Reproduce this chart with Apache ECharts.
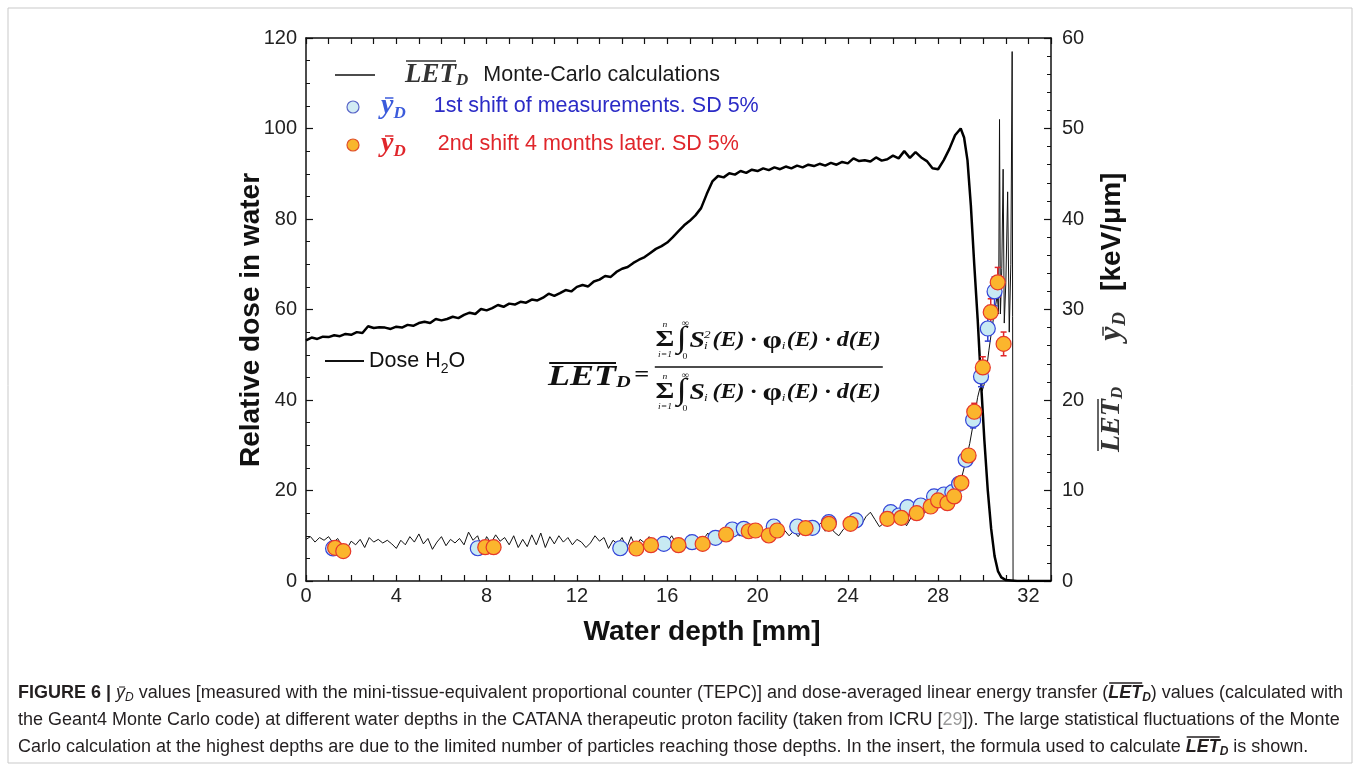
<!DOCTYPE html>
<html>
<head>
<meta charset="utf-8">
<script src="https://cdn.jsdelivr.net/npm/echarts@6/dist/echarts.min.js"></script>
<style>
html, body { margin: 0; padding: 0; background: #fff; }
#chart { width: 1360px; height: 771px; }
</style>
</head>
<body>
<div id="chart"></div>
<script>
// dose curve, sampled every 0.25 mm from 0 to 28.75 mm (left axis, %)
const doseStep = 0.25;
const doseMain = [
    53.2, 53.8, 53.5, 54.0, 53.9, 54.3, 54.1, 54.6, 54.4, 55.0, 54.8, 56.3, 55.9, 56.1, 56.0, 55.7,
    56.2, 56.0, 56.6, 56.4, 57.0, 57.3, 57.0, 57.9, 57.6, 57.9, 58.4, 58.1, 58.8, 59.3, 59.0, 60.1,
    59.8, 60.3, 61.0, 60.6, 61.3, 61.1, 61.7, 61.5, 62.2, 62.0, 62.6, 63.5, 63.0, 63.6, 64.3, 64.0,
    65.0, 65.4, 65.1, 66.2, 66.6, 67.4, 67.2, 68.3, 69.0, 69.4, 70.3, 71.0, 71.6, 72.5, 73.4, 74.0,
    74.8, 76.0, 77.3, 78.6, 79.6, 80.8, 82.4, 85.5, 88.3, 89.5, 89.2, 90.1, 89.8, 90.6, 90.2, 90.9,
    90.6, 91.2, 90.8, 91.4, 91.0, 91.6, 91.2, 91.8, 91.4, 92.0, 91.7, 92.2, 91.8, 92.4, 92.0, 92.6,
    92.3, 93.4, 92.8, 93.0, 92.7, 93.6, 92.9, 93.2, 94.0, 93.4, 95.0, 93.5, 94.8, 93.6, 92.8, 91.2,
    91.0, 93.0, 95.5, 98.5
];
const doseTail = [
    [29.0, 100.0], [29.15, 98.0], [29.3, 93.0], [29.45, 83.0], [29.6, 70.0], [29.75, 58.0],
    [29.9, 44.0], [30.05, 31.0], [30.2, 20.0], [30.35, 11.5], [30.5, 5.5], [30.65, 2.2],
    [30.8, 0.8], [31.0, 0.2], [31.5, 0], [33.0, 0]
];

// LET_D Monte-Carlo curve, every 0.2 mm from 0 to 24 mm (right axis, keV/um)
const letStep = 0.2;
const letMain = [
    4.6, 4.9, 4.3, 4.8, 4.5, 4.9, 4.2, 4.7, 3.9, 3.5, 4.4, 4.0, 4.6, 3.7, 4.8, 4.3,
    4.6, 4.2, 4.5, 4.1, 3.6, 4.5, 4.0, 4.9, 4.3, 5.2, 4.1, 4.7, 3.5, 4.3, 4.9, 3.9,
    4.6, 4.2, 4.7, 4.0, 5.4, 4.5, 5.0, 3.6, 4.9, 4.2, 5.1, 4.4, 4.8, 4.0, 5.0, 3.7,
    4.6, 3.8, 5.1, 4.0, 5.3, 3.7, 4.9, 4.1, 5.0, 4.3, 4.8, 4.0, 4.6, 4.3, 3.7, 4.2,
    5.0, 4.4, 4.8, 3.6, 4.5, 4.1, 4.8, 3.6, 4.9, 3.8, 4.6, 4.2, 4.9, 4.4, 3.8, 4.7,
    4.3, 5.0, 4.1, 4.7, 4.2, 5.1, 4.0, 4.8, 4.6, 5.3, 4.5, 5.5, 4.7, 5.6, 4.9, 5.4,
    5.0, 5.8, 5.1, 5.5, 5.2, 5.7, 5.0, 5.9, 5.3, 4.8, 5.6, 5.0, 5.5, 4.9, 5.6, 5.8,
    5.2, 5.9, 6.4, 5.5, 6.1, 5.4, 5.0, 5.7, 6.1
];
const letTail = [
    [24.2, 5.9], [24.4, 6.6], [24.6, 6.2], [24.8, 7.1], [25.0, 7.6], [25.2, 6.8], [25.4, 6.0],
    [25.6, 6.4], [25.8, 6.9], [26.0, 7.1], [26.2, 6.6], [26.4, 6.9], [26.6, 6.1], [26.8, 7.0],
    [27.0, 7.3], [27.2, 7.8], [27.4, 7.5], [27.6, 8.2], [27.8, 8.0], [28.0, 8.4], [28.2, 8.1],
    [28.4, 8.7], [28.6, 9.3], [28.8, 10.2], [29.0, 11.0], [29.2, 13.0], [29.4, 15.2], [29.6, 18.0],
    [29.75, 20.3], [29.85, 21.3], [29.95, 21.0], [30.05, 21.8], [30.15, 23.5], [30.25, 25.5],
    [30.35, 27.3], [30.45, 29.0], [30.55, 30.5], [30.62, 31.6], [30.68, 29.5], [30.72, 51.0],
    [30.76, 29.5], [30.82, 34.5], [30.88, 45.5], [30.93, 28.5], [31.0, 33.0], [31.08, 43.0],
    [31.15, 27.5], [31.22, 35.0], [31.28, 58.5], [31.32, 0], [33.0, 0]
];

// measured y_D, [depth mm, keV/um]
const shift1 = [
    [1.2, 3.6], [7.61, 3.62], [13.92, 3.62], [15.85, 4.1], [17.1, 4.29], [18.14, 4.77],
    [18.88, 5.69], [19.39, 5.77], [20.72, 6.02], [21.76, 6.02], [22.43, 5.88], [23.16, 6.5],
    [24.35, 6.69], [25.9, 7.6], [26.27, 7.24], [26.64, 8.16], [27.23, 8.34], [27.82, 9.34],
    [28.26, 9.56], [28.63, 9.81], [28.93, 10.74], [29.22, 13.4], [29.55, 17.8], [29.9, 22.6],
    [30.2, 27.9], [30.5, 32.0]
];
const shift2 = [
    [1.29, 3.67], [1.65, 3.3], [7.94, 3.74], [8.31, 3.74], [14.63, 3.59], [15.28, 3.96],
    [16.5, 3.96], [17.57, 4.1], [18.61, 5.14], [19.61, 5.5], [19.91, 5.58], [20.5, 5.03],
    [20.87, 5.58], [22.13, 5.84], [23.16, 6.32], [24.12, 6.32], [25.75, 6.87], [26.37, 6.98],
    [27.05, 7.49], [27.67, 8.23], [28.0, 8.9], [28.41, 8.6], [28.71, 9.34], [29.03, 10.85],
    [29.35, 13.87], [29.6, 18.7], [29.98, 23.6], [30.33, 29.7], [30.64, 33.0], [30.9, 26.2]
];
const sdFraction = 0.05;

const doseData = doseMain.map((v, i) => [+(i * doseStep).toFixed(2), v]).concat(doseTail);
const letData = letMain.map((v, i) => [+(i * letStep).toFixed(2), v]).concat(letTail);

const SERIF = '"Liberation Serif", "DejaVu Serif", serif';
const SANS = '"Liberation Sans", Arial, sans-serif';

// measure text so mixed runs (sub/overline) line up
const measureCtx = document.createElement('canvas').getContext('2d');
function textW(font, s) {
    measureCtx.font = font;
    return measureCtx.measureText(s).width;
}
function textRuns(runs, x0, y0) {
    const out = [];
    let x = x0;
    runs.forEach(r => {
        const w = textW(r.font, r.t);
        const y = y0 + (r.dy || 0);
        out.push({
            type: 'text', x: x, y: y, silent: true,
            style: { text: r.t, font: r.font, fill: r.color || '#111', align: 'left', verticalAlign: 'middle' }
        });
        if (r.over) {
            out.push({
                type: 'line', silent: true,
                shape: { x1: x + (r.ox || 1), y1: y - r.over, x2: x + w, y2: y - r.over },
                style: { stroke: r.color || '#111', lineWidth: r.ow || 1.5 }
            });
        }
        x += w + (r.gap || 0);
    });
    return out;
}
function txt(x, y, s, font, color, align) {
    return {
        type: 'text', x: x, y: y, silent: true,
        style: { text: s, font: font, fill: color || '#111', align: align || 'center', verticalAlign: 'middle' }
    };
}

const blueText = '#2b2bc6';
const redText = '#e0262b';
const g = [];

// frame
g.push({ type: 'rect', shape: { x: 8, y: 8, width: 1344, height: 755 }, style: { fill: 'none', stroke: '#c9c9c9', lineWidth: 1 }, silent: true });

// legend
g.push({ type: 'line', shape: { x1: 335, y1: 75, x2: 375, y2: 75 }, style: { stroke: '#111', lineWidth: 1.5 } });
g.push(...textRuns([
    { t: 'LET', font: 'bold italic 27px ' + SERIF, color: '#333', over: 14 },
    { t: 'D', font: 'bold italic 17px ' + SERIF, color: '#333', dy: 6, gap: 15 },
    { t: 'Monte-Carlo calculations', font: '21.5px ' + SANS, color: '#1a1a1a' }
], 405, 75));
g.push({ type: 'circle', shape: { cx: 353, cy: 107, r: 6 }, style: { fill: '#d2ecf4', stroke: '#5a66c8', lineWidth: 1.2 } });
g.push(...textRuns([
    { t: 'y', font: 'bold italic 28px ' + SERIF, color: '#3b5bdb', over: 8, ox: 4 },
    { t: 'D', font: 'bold italic 17px ' + SERIF, color: '#3b5bdb', dy: 8, gap: 28 },
    { t: '1st shift of measurements. SD 5%', font: '21.5px ' + SANS, color: blueText }
], 381, 106));
g.push({ type: 'circle', shape: { cx: 353, cy: 145, r: 6 }, style: { fill: '#f8b62c', stroke: '#e0502a', lineWidth: 1.2 } });
g.push(...textRuns([
    { t: 'y', font: 'bold italic 28px ' + SERIF, color: redText, over: 8, ox: 4 },
    { t: 'D', font: 'bold italic 17px ' + SERIF, color: redText, dy: 8, gap: 32 },
    { t: '2nd shift 4 months later. SD 5%', font: '21.5px ' + SANS, color: redText }
], 381, 144));

// Dose H2O label
g.push({ type: 'line', shape: { x1: 325, y1: 361, x2: 364, y2: 361 }, style: { stroke: '#111', lineWidth: 2 } });
g.push(...textRuns([
    { t: 'Dose H', font: '21.5px ' + SANS },
    { t: '2', font: '14px ' + SANS, dy: 8 },
    { t: 'O', font: '21.5px ' + SANS }
], 369, 361));

// formula insert (drawn slightly stretched, as in the original)
const fx = [];
fx.push(...textRuns([
    { t: 'LET', font: 'bold italic 30px ' + SERIF, over: 14, ow: 2 },
    { t: 'D', font: 'bold italic 17px ' + SERIF, dy: 6, gap: 3 },
    { t: '=', font: 'bold 22px ' + SERIF, dy: -2 }
], 0, 377));
fx.push({ type: 'line', shape: { x1: 89, y1: 367, x2: 279, y2: 367 }, style: { stroke: '#111', lineWidth: 1.3 } });
[341, 393].forEach((yy, k) => {
    fx.push(txt(97.5, yy - 1, 'Σ', 'bold 24px ' + SERIF));
    fx.push(txt(97.5, yy - 16, 'n', 'italic 8px ' + SERIF));
    fx.push(txt(97.5, yy + 14, 'i=1', 'italic 8px ' + SERIF));
    fx.push(txt(111.5, yy - 2, '∫', 'bold 30px ' + SERIF));
    fx.push(txt(114.5, yy - 17, '∞', '9px ' + SERIF));
    fx.push(txt(114, yy + 16, '0', '8px ' + SERIF));
    fx.push(txt(118, yy, 'S', 'bold italic 23px ' + SERIF, '#111', 'left'));
    if (k === 0) fx.push(txt(130, yy - 6, '2', 'italic 11px ' + SERIF, '#111', 'left'));
    fx.push(txt(130, yy + 5, 'i', 'italic 11px ' + SERIF, '#111', 'left'));
    fx.push(...textRuns([
        { t: '(E) · ', font: 'bold italic 20px ' + SERIF },
        { t: 'φ', font: 'bold 26px ' + SERIF },
        { t: 'i', font: 'italic 11px ' + SERIF, dy: 5, gap: 1 },
        { t: '(E) · d(E)', font: 'bold italic 20px ' + SERIF }
    ], 137, yy));
});
g.push({ type: 'group', x: 548, y: 0, scaleX: 1.2, children: fx });

// axis titles
g.push(txt(702, 632, 'Water depth [mm]', 'bold 28px ' + SANS, '#111'));
g.push(Object.assign(txt(251, 320, 'Relative dose in water', 'bold 28px ' + SANS, '#111'), { rotation: Math.PI / 2 }));

// right axis title (rotated)
g.push({
    type: 'group', x: 1112, y: 452, rotation: Math.PI / 2,
    children: textRuns([
        { t: 'LET', font: 'bold italic 28px ' + SERIF, color: '#333', over: 14 },
        { t: 'D', font: 'bold italic 17px ' + SERIF, color: '#333', dy: 6, gap: 46 },
        { t: 'y', font: 'bold italic 32px ' + SERIF, color: '#333', over: 9, ox: 5, gap: 1 },
        { t: 'D', font: 'bold italic 19px ' + SERIF, color: '#333', dy: 8, gap: 21 },
        { t: '[keV/μm]', font: 'bold 28px ' + SANS, color: '#111' }
    ], 0, 0)
});

// caption
const capFont = '18px ' + SANS;
const capBold = 'bold 18px ' + SANS;
const capColor = '#231f20';
g.push(...textRuns([
    { t: 'FIGURE 6 | ', font: capBold, color: capColor },
    { t: 'y', font: 'italic 18px ' + SANS, color: capColor, over: 6, ow: 1, ox: 3 },
    { t: 'D', font: 'italic 12px ' + SANS, color: capColor, dy: 5 },
    { t: ' values [measured with the mini-tissue-equivalent proportional counter (TEPC)] and dose-averaged linear energy transfer (', font: capFont, color: capColor },
    { t: 'LET', font: 'bold italic 18px ' + SANS, color: capColor, over: 10, ow: 1.3 },
    { t: 'D', font: 'bold italic 12px ' + SANS, color: capColor, dy: 5 },
    { t: ') values (calculated with', font: capFont, color: capColor }
], 18, 693));
g.push(...textRuns([
    { t: 'the Geant4 Monte Carlo code) at different water depths in the CATANA therapeutic proton facility (taken from ICRU [', font: capFont, color: capColor },
    { t: '29', font: capFont, color: '#9a9a9a' },
    { t: ']). The large statistical fluctuations of the Monte', font: capFont, color: capColor }
], 18, 720));
g.push(...textRuns([
    { t: 'Carlo calculation at the highest depths are due to the limited number of particles reaching those depths. In the insert, the formula used to calculate ', font: capFont, color: capColor },
    { t: 'LET', font: 'bold italic 18px ' + SANS, color: capColor, over: 10, ow: 1.3 },
    { t: 'D', font: 'bold italic 12px ' + SANS, color: capColor, dy: 5 },
    { t: ' is shown.', font: capFont, color: capColor }
], 18, 747));

const axisLine = { show: true, onZero: false, lineStyle: { color: '#111', width: 1.5 } };
const labelStyle = { fontSize: 20, color: '#222', fontFamily: 'Liberation Sans' };

function errorBars(color) {
    return function (params, api) {
        const x = api.value(0);
        const y = api.value(1);
        const top = api.coord([x, y * (1 + sdFraction)]);
        const bot = api.coord([x, y * (1 - sdFraction)]);
        const st = { stroke: color, lineWidth: 1.5 };
        return {
            type: 'group',
            children: [
                { type: 'line', shape: { x1: top[0], y1: top[1], x2: bot[0], y2: bot[1] }, style: st },
                { type: 'line', shape: { x1: top[0] - 3, y1: top[1], x2: top[0] + 3, y2: top[1] }, style: st },
                { type: 'line', shape: { x1: bot[0] - 3, y1: bot[1], x2: bot[0] + 3, y2: bot[1] }, style: st }
            ]
        };
    };
}

const chart = echarts.init(document.getElementById('chart'));
const option = {
    animation: false,
    backgroundColor: '#fff',
    grid: { left: 306, right: 309, top: 38, bottom: 190 },
    xAxis: [{
        type: 'value', min: 0, max: 33, interval: 1, position: 'bottom',
        axisLine: axisLine,
        axisTick: { inside: true, length: 6, lineStyle: { color: '#111', width: 1.2 } },
        splitLine: { show: false },
        axisLabel: Object.assign({ margin: 5, formatter: v => (v % 4 === 0 ? String(v) : '') }, labelStyle)
    }, {
        type: 'value', min: 0, max: 33, interval: 1, position: 'top',
        axisLine: axisLine,
        axisTick: { inside: true, length: 6, lineStyle: { color: '#111', width: 1.2 } },
        splitLine: { show: false },
        axisLabel: { show: false }
    }],
    yAxis: [{
        type: 'value', min: 0, max: 120, interval: 20, position: 'left',
        axisLine: axisLine,
        axisTick: { inside: true, length: 7, lineStyle: { color: '#111', width: 1.2 } },
        minorTick: { show: true, splitNumber: 4, length: 4, lineStyle: { color: '#111' } },
        splitLine: { show: false },
        axisLabel: Object.assign({ margin: 9 }, labelStyle)
    }, {
        type: 'value', min: 0, max: 60, interval: 10, position: 'right',
        axisLine: axisLine,
        axisTick: { inside: true, length: 7, lineStyle: { color: '#111', width: 1.2 } },
        minorTick: { show: true, splitNumber: 5, length: 4, lineStyle: { color: '#111' } },
        splitLine: { show: false },
        axisLabel: Object.assign({ margin: 11 }, labelStyle)
    }],
    series: [{
        name: 'LET_D', type: 'line', yAxisIndex: 1, data: letData, symbol: 'none',
        lineStyle: { color: '#111', width: 1 }, z: 2
    }, {
        name: 'Dose', type: 'line', yAxisIndex: 0, data: doseData, symbol: 'none',
        lineStyle: { color: '#000', width: 2.5 }, z: 3
    }, {
        type: 'custom', yAxisIndex: 1, data: shift1, renderItem: errorBars('#2f3fd0'),
        encode: { x: 0, y: 1 }, z: 4
    }, {
        type: 'custom', yAxisIndex: 1, data: shift2, renderItem: errorBars('#e0262b'),
        encode: { x: 0, y: 1 }, z: 4
    }, {
        name: '1st shift', type: 'scatter', yAxisIndex: 1, data: shift1, symbolSize: 15,
        itemStyle: { color: '#c8eaf3', borderColor: '#3344d8', borderWidth: 1.2, opacity: 1 }, z: 5
    }, {
        name: '2nd shift', type: 'scatter', yAxisIndex: 1, data: shift2, symbolSize: 15,
        itemStyle: { color: '#fbb52d', borderColor: '#e6392b', borderWidth: 1.2, opacity: 1 }, z: 6
    }],
    graphic: { elements: g }
};
chart.setOption(option);
</script>
</body>
</html>
